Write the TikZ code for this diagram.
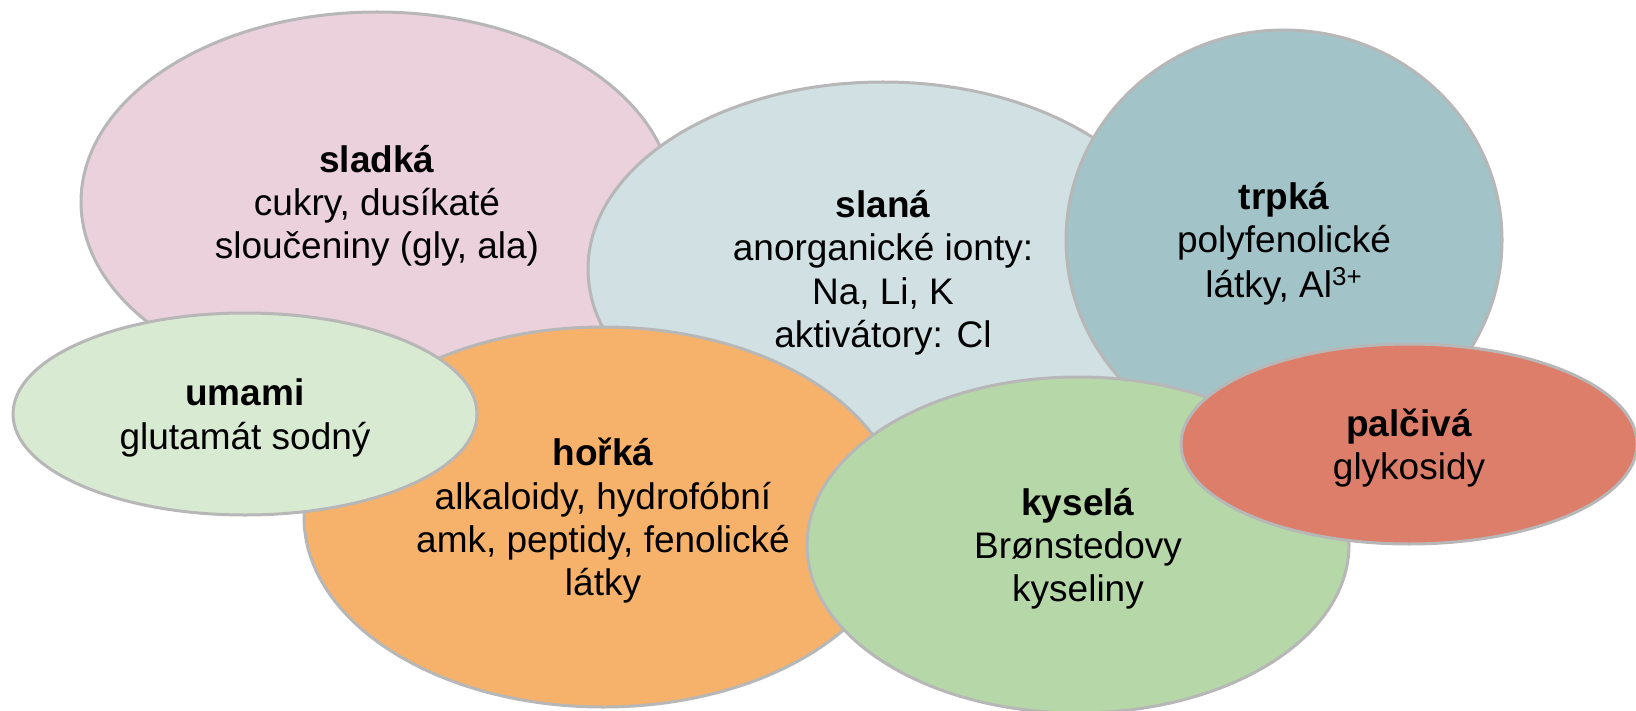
\documentclass[tikz,border=0pt]{standalone}
\usepackage{fontspec}
\setmainfont{Liberation Sans}
\usetikzlibrary{shapes.geometric}
\definecolor{okraj}{HTML}{B7B7B7}
\definecolor{sladkaC}{HTML}{EAD1DC}
\definecolor{slanaC}{HTML}{D0E0E3}
\definecolor{trpkaC}{HTML}{A2C4C9}
\definecolor{horkaC}{HTML}{F6B26B}
\definecolor{umamiC}{HTML}{D9EAD3}
\definecolor{kyselaC}{HTML}{B6D7A8}
\definecolor{palcivaC}{HTML}{DD7E6B}
\begin{document}
\begin{tikzpicture}[x=0.5pt, y=-0.5pt,
    chut/.style={ellipse, draw=okraj, line width=1.5pt, inner sep=0pt,
        align=center, text depth=-1pt, font=\fontsize{18.5}{21.7}\selectfont}]
    \useasboundingbox (0,0) rectangle (1636,711);
    % back row first, then the ones lying on top
    \node[chut, fill=sladkaC, minimum width=296pt, minimum height=190pt]
        (sladka) at (377,202) {\textbf{sladká}\\cukry, dusíkaté\\sloučeniny (gly, ala)};
    \node[chut, fill=slanaC, minimum width=295pt, minimum height=187pt]
        (slana) at (883,269) {\textbf{slaná}\\anorganické ionty:\\Na, Li, K\\aktivátory: Cl};
    \node[chut, fill=trpkaC, minimum width=218pt, minimum height=210pt]
        (trpka) at (1284,240) {\textbf{trpká}\\polyfenolické\\[1pt]látky, Al\textsuperscript{3+}};
    \node[chut, fill=horkaC, minimum width=299pt, minimum height=190pt]
        (horka) at (603,517) {\textbf{hořká}\\alkaloidy, hydrofóbní\\amk, peptidy, fenolické\\látky};
    \node[chut, fill=umamiC, minimum width=232pt, minimum height=101pt]
        (umami) at (245,414) {\textbf{umami}\\glutamát sodný};
    \node[chut, fill=kyselaC, minimum width=271pt, minimum height=168pt]
        (kysela) at (1078,545) {\textbf{kyselá}\\Brønstedovy\\kyseliny};
    \node[chut, fill=palcivaC, minimum width=228pt, minimum height=100pt]
        (palciva) at (1409,444) {\textbf{palčivá}\\glykosidy};
\end{tikzpicture}
\end{document}
